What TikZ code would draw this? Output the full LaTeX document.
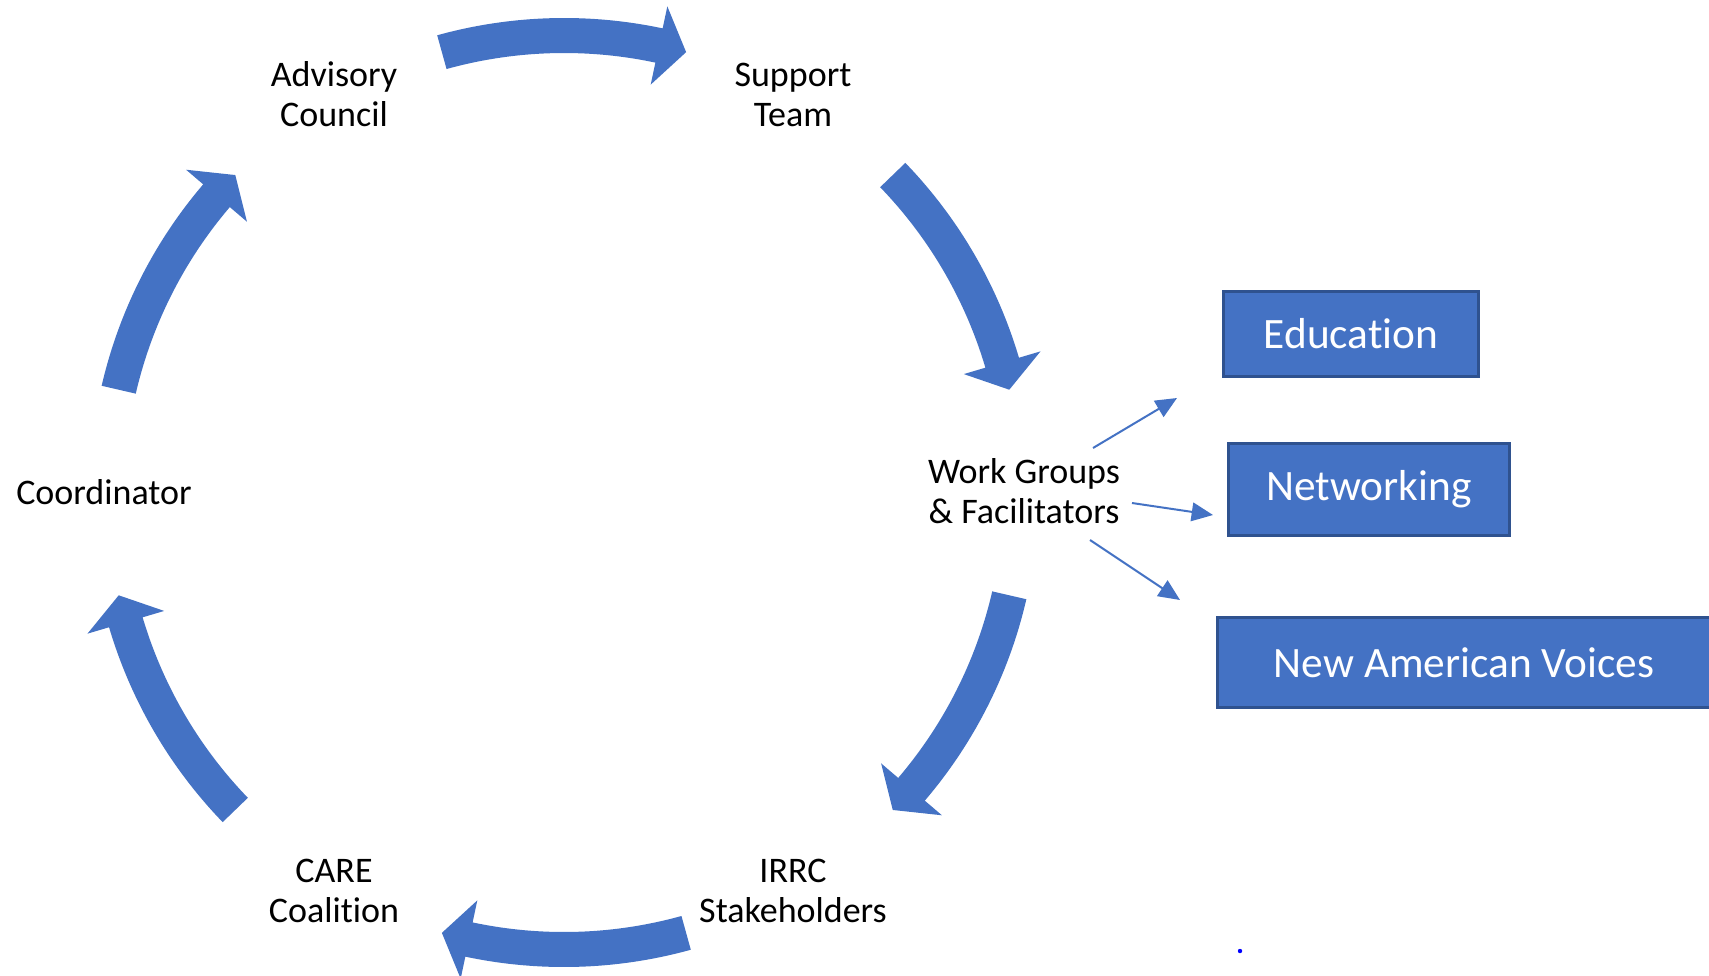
\documentclass[tikz,border=0pt]{standalone}
\usepackage{fontspec}
\setmainfont{Carlito}[Ligatures={NoCommon}]
\usetikzlibrary{arrows.meta}

\definecolor{cycleblue}{RGB}{68,114,196}
\definecolor{boxedge}{RGB}{47,82,143}

\tikzset{every picture/.style={line width=0.75pt}}
\tikzset{
  steplabel/.style={align=center, inner sep=0pt, font=\fontsize{27}{30}\selectfont},
  areabox/.style={fill=cycleblue, draw=boxedge, line width=2.2pt, inner sep=0pt,
    text=white, font=\fontsize{32.5}{38}\selectfont},
  thinarrow/.style={draw=cycleblue, line width=1.5pt, -{Triangle[length=16pt,width=14pt]}},
}

\begin{document}
\begin{tikzpicture}[x=0.75pt,y=0.75pt,yscale=-1,xscale=1]
\path[fill=white, use as bounding box] (0,0) rectangle (1709,975);

%Block arc arrows of the cycle
\begin{scope}[shift={(564,492.5)}, yscale=-1]
\foreach \ang in {90,28.5,-28.5,-90,-151.5,151.5}{
  \pgfmathsetmacro{\tl}{\ang+15.5}
  \pgfmathsetmacro{\tp}{\ang-15.5}
  \pgfmathsetmacro{\bs}{\ang-12}
  \fill[cycleblue] (\tl:474.5) arc[start angle=\tl, end angle=\bs, radius=474.5]
    -- (\bs:497) -- (\tp:457) -- (\bs:417) -- (\bs:439.5)
    arc[start angle=\bs, end angle=\tl, radius=439.5] -- cycle;
}
\end{scope}

% Text Node
\node[steplabel] (adv) at (334,94.5) {Advisory\\Council};
% Text Node
\node[steplabel] (sup) at (793,94.5) {Support\\Team};
% Text Node
\node[steplabel] (wg) at (1024,491) {Work Groups\\\& Facilitators};
% Text Node
\node[steplabel] (irrc) at (793,890.5) {IRRC\\Stakeholders};
% Text Node
\node[steplabel] (care) at (334,890.5) {CARE\\Coalition};
% Text Node
\node[steplabel] (coord) at (104,492) {Coordinator};

%Boxes of the work groups
\node[areabox, minimum width=191pt, minimum height=64pt] (edu) at (1351,334) {Education};
\node[areabox, minimum width=210.75pt, minimum height=69pt] (net) at (1369,489.5) {Networking};
\node[areabox, minimum width=369.75pt, minimum height=67.5pt] (nav) at (1464,662.5) {New American Voices};

%Thin arrows
\coordinate (s1) at (1093,448);
\coordinate (t1) at (1177,398);
\coordinate (s2) at (1132,503);
\coordinate (t2) at (1213,515);
\coordinate (s3) at (1090,540);
\coordinate (t3) at (1180,600);
\draw[thinarrow] (s1) -- (t1);
\draw[thinarrow] (s2) -- (t2);
\draw[thinarrow] (s3) -- (t3);

%Dot
\fill[blue] (1240,951) circle (2.2);

\end{tikzpicture}
\end{document}
